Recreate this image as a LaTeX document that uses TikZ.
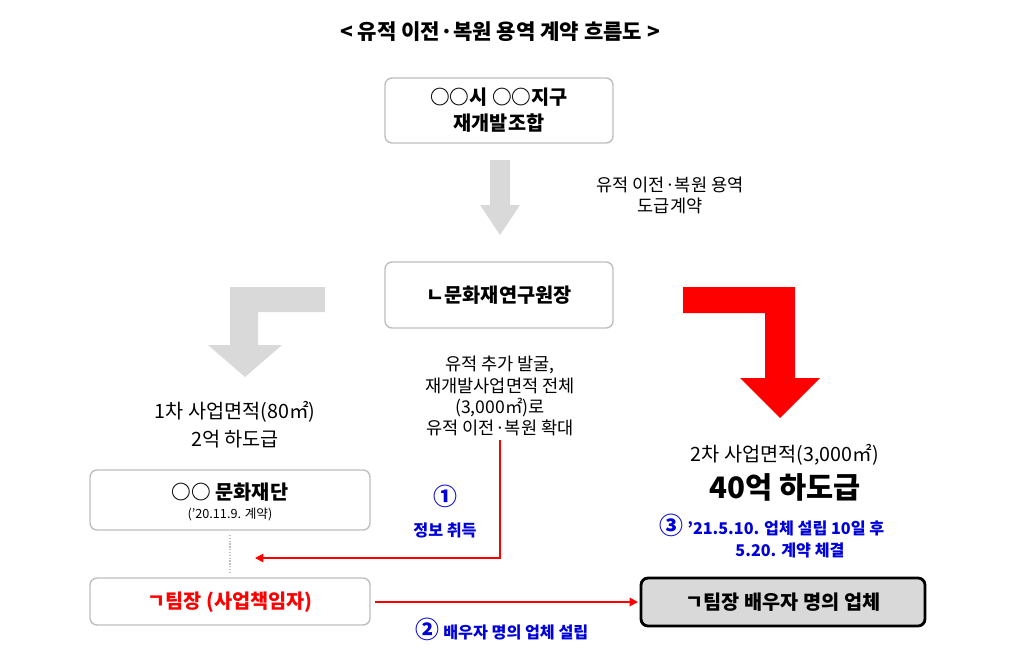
\documentclass[tikz,border=0pt]{standalone}
\usepackage{fontspec}
\setmainfont{Noto Sans CJK KR}
\usetikzlibrary{arrows.meta}
\begin{document}
\begin{tikzpicture}[x=0.025cm,y=-0.025cm,
  box/.style={draw=black!25,line width=1pt,rounded corners=5pt,fill=white},
  txt/.style={align=center,font=\fontsize{12.5}{15}\selectfont},
  bl/.style={text=blue!85!black,font=\bfseries\fontsize{11.5}{16}\selectfont,align=center},
  redar/.style={draw=red,line width=1.3pt,-{Triangle[length=6pt,width=6pt]}}]
\useasboundingbox (0,0) rectangle (1016,663);
\node (title) at (500,32) {\bfseries\fontsize{15}{18}\selectfont < 유적 이전·복원 용역 계약 흐름도 >};
\draw[box] (385,78) rectangle (613,143);
\node[txt,font=\bfseries\fontsize{14}{18}\selectfont] (b1) at (499,110) {○○시 ○○지구\\재개발조합};
\fill[black!15] (490,160)--(510,160)--(510,205)--(520,205)--(500,235)--(480,205)--(490,205)--cycle;
\node[txt] (t1) at (670,195) {유적 이전·복원 용역\\도급계약};
\draw[box] (385,262) rectangle (613,328);
\node[font=\bfseries\fontsize{14}{18}\selectfont] (b2) at (499,295) {ㄴ문화재연구원장};
% gray L arrow
\fill[black!15] (325,287)--(325,312)--(258,312)--(258,345)--(282,345)--(245,377)--(208,345)--(230,345)--(230,287)--cycle;
% red L arrow
\fill[red] (683,287)--(795,287)--(795,378)--(820,378)--(780,418)--(740,378)--(765,378)--(765,313)--(683,313)--cycle;
\node[txt] (t2) at (500,396) {유적 추가 발굴,\\재개발사업면적 전체\\(3,000㎡)로\\유적 이전·복원 확대};
\node[txt,font=\fontsize{14}{20}\selectfont] (t3) at (235,425) {1차 사업면적(80㎡)\\2억 하도급};
\node[font=\fontsize{14}{18}\selectfont] (t4) at (785,455) {2차 사업면적(3,000㎡)};
\node[font=\bfseries\fontsize{21}{24}\selectfont] (t5) at (785,487) {40억 하도급};
\draw[box] (90,470) rectangle (370,530);
\node[font=\bfseries\fontsize{14}{18}\selectfont] (b3) at (230,492) {○○ 문화재단};
\node[font=\fontsize{9}{11}\selectfont] (b3s) at (230,515) {('20.11.9. 계약)};
\draw[black!25,line width=1pt,densely dotted] (230,535)--(230,573);
\draw[box] (90,578) rectangle (370,625);
\node[text=red,font=\bfseries\fontsize{14}{18}\selectfont] (b4) at (230,602) {ㄱ팀장 (사업책임자)};
\draw[draw=black,line width=2pt,rounded corners=5pt,fill=black!15] (641,578) rectangle (925,626);
\node[font=\bfseries\fontsize{14}{18}\selectfont] (b5) at (783,602) {ㄱ팀장 배우자 명의 업체};
\coordinate (r1) at (500,440);
\coordinate (r2) at (500,558);
\coordinate (r3) at (255,558);
\draw[redar] (r1)--(r2)--(r3);
\node[bl,font=\bfseries\fontsize{17}{20}\selectfont] (c1) at (445,496) {①};
\node[bl] (c1t) at (445,530) {정보 취득};
\draw[redar] (375,602)--(638,602);
\node[bl] (c2) at (502,629) {{\fontsize{17}{20}\selectfont ②} 배우자 명의 업체 설립};
\node[bl] (c3) at (772,525) {{\fontsize{17}{20}\selectfont ③} '21.5.10. 업체 설립 10일 후};
\node[bl] (c3b) at (790,550) {5.20. 계약 체결};
\end{tikzpicture}
\end{document}
